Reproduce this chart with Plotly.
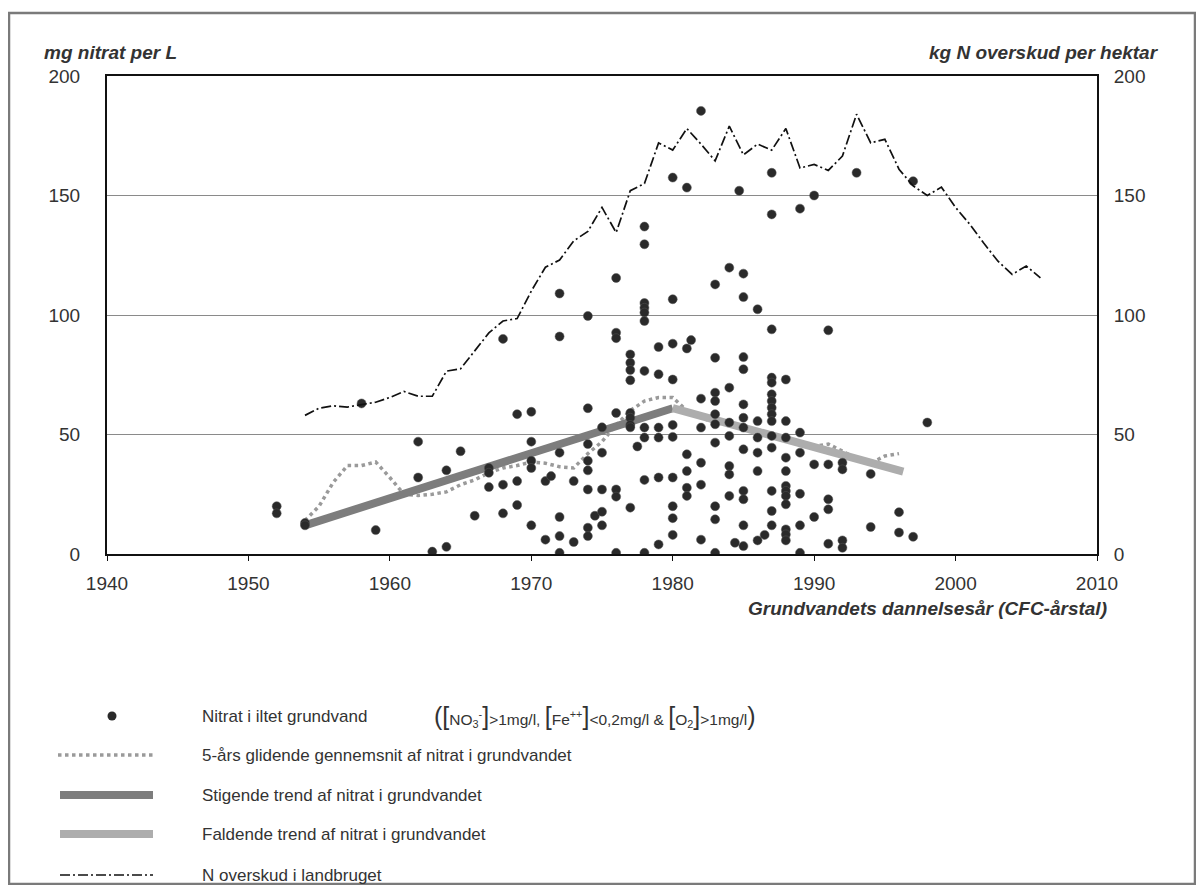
import plotly.graph_objects as go

# ---------------- data ----------------
# N surplus in agriculture (kg N per hektar), right axis
n_years = list(range(1954, 2007))
n_surplus = [58, 61, 62, 61.5, 62.5, 63.5, 65.5, 68, 66, 66,
             76.5, 77.5, 85, 92.5, 97.5, 98.5, 110, 120, 123, 131,
             135, 145, 134.5, 152, 155, 172, 169, 178, 171.5, 164.5,
             179, 167, 171.5, 169, 178, 161.5, 163, 160.5, 166.5, 184,
             172, 173.5, 161, 154, 150, 153.5, 145, 138, 130, 122.5,
             117, 120.5, 115.5]

# 5-year moving average of nitrate
ma_years = list(range(1954, 1997))
ma_values = [14, 20, 30, 37, 37, 38.5, 32, 25, 24.5, 25,
             26, 29, 31, 34, 36, 37, 38.5, 38, 36.5, 36,
             42, 47, 54, 60, 64, 65.5, 65.5, 60, 57, 55,
             54, 53, 52, 50, 48, 46, 45, 46, 43, 40,
             38, 41, 42]

# trends
rise_years = [1954, 1980]
rise_values = [12, 61]
fall_years = [1980, 1996.3]
fall_values = [61, 34.5]

# nitrate in oxic groundwater (mg/L) per CFC-year
nitrate_by_year = {
    1952: [20, 17],
    1954: [13, 12],
    1958: [63],
    1959: [10],
    1962: [47, 32],
    1963: [1],
    1964: [35, 3],
    1965: [43],
    1966: [16],
    1967: [36, 34, 28],
    1968: [90, 29, 17],
    1969: [58.5, 30.5, 20.5],
    1970: [59.5, 47, 39, 36, 12],
    1971: [30.5, 6],
    1971.4: [32.6],
    1972: [109, 91, 42.4, 15.5, 7.5, 0.5],
    1973: [30.5, 5],
    1974: [99.6, 61, 46, 39, 35, 27, 11, 7.5],
    1974.5: [16],
    1975: [53, 42.4, 27, 17.7, 12],
    1976: [115.5, 92.6, 90.3, 59, 27, 24, 0.5],
    1977: [83.5, 80, 77, 72.7, 59, 57, 54, 53, 19.4],
    1977.5: [45],
    1978: [137, 129.6, 105, 103, 101, 97.5, 76.6, 52.9, 48.7, 31, 0.5],
    1979: [86.6, 75.2, 52.9, 48.7, 32, 4],
    1980: [157.5, 106.6, 88, 73, 54, 49, 32, 20, 15, 8],
    1981: [153.3, 86, 41.7, 34.7, 27.7, 24.3],
    1981.3: [89.5],
    1982: [185.4, 65, 52.9, 38.2, 29, 6],
    1983: [112.8, 82.1, 67.5, 64, 58.5, 54.3, 46.6, 20, 14.5, 0.5],
    1984: [119.8, 69.6, 55, 49.4, 36.8, 33.3, 24.3],
    1984.4: [4.7],
    1984.7: [152],
    1985: [117.3, 107.5, 82.4, 77.3, 62.6, 57, 52.9, 43.8, 26.4, 22.9, 12, 3.3],
    1986: [102.4, 55.6, 48.7, 42.4, 34.7, 5.7],
    1986.5: [8],
    1987: [159.5, 142.1, 94, 73.8, 71.7, 66.8, 64, 61.2, 58.5, 55.6, 49.4, 44.5, 26.4, 18, 12],
    1988: [73, 55.6, 48.7, 40.3, 34.7, 28.5, 26.4, 24.3, 20.8, 10.3, 8.2, 5.7],
    1989: [144.5, 50.8, 42.4, 25.2, 12, 0.5],
    1990: [150, 37.5, 15.5],
    1991: [93.6, 37.5, 22.9, 18.7, 4.3],
    1992: [38.2, 35.4, 5.7, 2.6],
    1993: [159.5],
    1994: [33.5, 11.3],
    1996: [17.5, 9],
    1997: [156, 7.2],
    1998: [55],
}
nit_x = [yr for yr, vals in nitrate_by_year.items() for _ in vals]
nit_y = [v for vals in nitrate_by_year.values() for v in vals]

x_ticks = [1940, 1950, 1960, 1970, 1980, 1990, 2000, 2010]
y_ticks = [0, 50, 100, 150, 200]

legend_labels = [
    "Nitrat i iltet grundvand",
    "5-års glidende gennemsnit af nitrat i grundvandet",
    "Stigende trend af nitrat i grundvandet",
    "Faldende trend af nitrat i grundvandet",
    "N overskud i landbruget",
]

# ---------------- layout helpers ----------------
# page body has an 8px margin, so the figure is offset by 8px
OFF = 8
W, H = 1204 - 2 * OFF, 893 - 2 * OFF
L, R, T, B = 107, 1097, 76, 554        # plot area in window pixels
PW, PH = R - L, B - T


def px(x):
    return (x - L) / PW


def py(y):
    return (B - y) / PH


FONT = "Liberation Sans, Arial, sans-serif"
TXT = "#333333"
C_RISE = "#7d7d7d"
C_FALL = "#adadad"
C_MA = "#9a9a9a"
C_DOT = "#2a2a2a"

fig = go.Figure()

fig.add_trace(go.Scatter(x=ma_years, y=ma_values, mode="lines",
                         line=dict(color=C_MA, width=3.5, dash="dot"),
                         showlegend=False, hoverinfo="skip"))
fig.add_trace(go.Scatter(x=rise_years, y=rise_values, mode="lines",
                         line=dict(color=C_RISE, width=8), showlegend=False))
fig.add_trace(go.Scatter(x=fall_years, y=fall_values, mode="lines",
                         line=dict(color=C_FALL, width=8), showlegend=False))
fig.add_trace(go.Scatter(x=nit_x, y=nit_y, mode="markers",
                         marker=dict(color=C_DOT, size=9,
                                     line=dict(color="#555555", width=0.5)),
                         showlegend=False))
fig.add_trace(go.Scatter(x=n_years, y=n_surplus, mode="lines", yaxis="y2",
                         line=dict(color="#111111", width=1.7,
                                   dash="10px,3px,2px,3px"),
                         showlegend=False))

axis_common = dict(showline=True, linecolor="#111111", linewidth=2,
                   tickfont=dict(family=FONT, size=19, color=TXT))

fig.update_layout(
    width=W, height=H,
    margin=dict(l=L - OFF, r=(1204 - OFF) - R, t=T - OFF, b=(893 - OFF) - B),
    paper_bgcolor="white", plot_bgcolor="white",
    font=dict(family=FONT, color=TXT),
    xaxis=dict(range=[1940, 2010], tickvals=x_ticks, ticks="outside",
               ticklen=5, tickcolor="#111111", showgrid=False, zeroline=False,
               mirror=True, ticklabelstandoff=6, **axis_common),
    yaxis=dict(range=[0, 200], tickvals=y_ticks, showgrid=True,
               gridcolor="#8a8a8a", gridwidth=1, zeroline=False,
               mirror=True, ticks="", ticklabelstandoff=21, **axis_common),
    yaxis2=dict(range=[0, 200], tickvals=y_ticks, overlaying="y",
                side="right", showgrid=False, zeroline=False, ticks="",
                ticklabelstandoff=11, **axis_common),
)

shapes = []
annotations = []

# outer border
shapes.append(dict(type="rect", xref="paper", yref="paper",
                   x0=px(9), x1=px(1195), y0=py(884), y1=py(13),
                   line=dict(color="#7a7a7a", width=2.5), layer="below"))

# axis titles
TITLE_FONT = dict(family=FONT, size=19, color=TXT)
annotations.append(dict(text="<b><i>mg nitrat per L</i></b>", xref="paper",
                        yref="paper", x=px(42), y=py(52), xanchor="left",
                        yanchor="middle", showarrow=False, font=TITLE_FONT))
annotations.append(dict(text="<b><i>kg N overskud per hektar</i></b>",
                        xref="paper", yref="paper", x=px(1161), y=py(52),
                        xanchor="right", yanchor="middle", showarrow=False,
                        font=TITLE_FONT))
annotations.append(dict(text="<b><i>Grundvandets dannelsesår (CFC-årstal)</i></b>",
                        xref="paper", yref="paper", x=px(1109), y=py(608),
                        xanchor="right", yanchor="middle", showarrow=False,
                        font=TITLE_FONT))

# legend
rows_y = [716, 755, 795, 834, 875]
for lbl, ry in zip(legend_labels, rows_y):
    annotations.append(dict(text=lbl, xref="paper", yref="paper",
                            x=px(200), y=py(ry), xanchor="left",
                            yanchor="middle", showarrow=False,
                            font=dict(family=FONT, size=17, color=TXT)))
# row 1: dot
r = 4.5
shapes.append(dict(type="circle", xref="paper", yref="paper",
                   x0=px(112 - r), x1=px(112 + r), y0=py(rows_y[0] + r),
                   y1=py(rows_y[0] - r), fillcolor=C_DOT,
                   line=dict(color=C_DOT, width=0)))
# row 2: dotted
shapes.append(dict(type="line", xref="paper", yref="paper", x0=px(58),
                   x1=px(153), y0=py(rows_y[1]), y1=py(rows_y[1]),
                   line=dict(color=C_MA, width=3.5, dash="dot")))
# row 3: rising trend
shapes.append(dict(type="line", xref="paper", yref="paper", x0=px(60),
                   x1=px(153), y0=py(rows_y[2]), y1=py(rows_y[2]),
                   line=dict(color=C_RISE, width=8)))
# row 4: falling trend
shapes.append(dict(type="line", xref="paper", yref="paper", x0=px(60),
                   x1=px(153), y0=py(rows_y[3]), y1=py(rows_y[3]),
                   line=dict(color=C_FALL, width=8)))
# row 5: dash-dot
shapes.append(dict(type="line", xref="paper", yref="paper", x0=px(60),
                   x1=px(153), y0=py(rows_y[4]), y1=py(rows_y[4]),
                   line=dict(color="#111111", width=1.7,
                             dash="10px,3px,2px,3px")))

big = "<span style='font-size:25px'>"
formula = (big + "(</span>" + big + "[</span>NO<sub>3</sub><sup>-</sup>"
           + big + "]</span>>1mg/l, " + big + "[</span>Fe<sup>++</sup>"
           + big + "]</span><0,2mg/l & " + big + "[</span>O<sub>2</sub>"
           + big + "]</span>>1mg/l" + big + ")</span>")
annotations.append(dict(text=formula, xref="paper", yref="paper",
                        x=px(432), y=py(rows_y[0]), xanchor="left",
                        yanchor="middle", showarrow=False,
                        font=dict(family=FONT, size=15.5, color=TXT)))

fig.update_layout(shapes=shapes, annotations=annotations)

fig.write_html("out.html")
